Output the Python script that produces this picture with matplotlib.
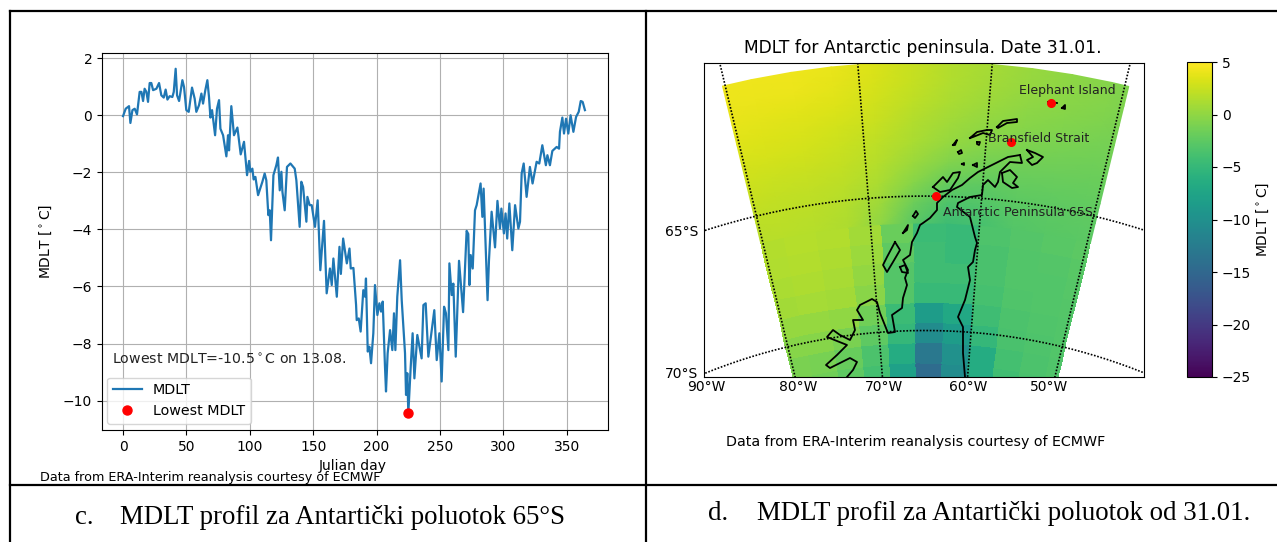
import numpy as np
import matplotlib
matplotlib.use('Agg')
import matplotlib.pyplot as plt
from matplotlib.lines import Line2D

W, H = 1277, 542

# left panel, MDLT profile
days = [0, 2.1, 4.7, 5.8, 7.4, 9.2, 11, 13.1, 14.5, 15.8, 17, 18.4, 19.7, 21, 22.3, 23.7, 26.3, 28.4, 30.2, 32.1,
        33.6, 35, 36.8, 38.9, 40, 41.5, 42.6, 44.2, 46.8, 48.1, 49.9, 51.8, 54.4, 56.5, 57.8, 59.9, 61.8, 63.1,
        64.9, 66.5, 67.8, 68.9, 70.2, 72.6, 74.1, 75.7, 76.8, 78.9, 81.5, 82.8, 83.6, 85.4, 87.5, 90.2, 92.8,
        95.4, 97.8, 99.4, 100.4, 102, 103, 104.4, 106.5, 109.9, 111.7, 113, 114.6, 115.7, 116.7, 118.6, 120.9,
        122.2, 123.6, 124.9, 125.7, 127.5, 129.3, 132, 135.4, 136.7, 139.3, 140.6, 142, 144.6, 145.4, 147.2,
        148.8, 151.4, 153.5, 155.6, 158.5, 160.6, 163.2, 164.6, 165.9, 168.6, 170.7, 171.8, 173.6, 176.5, 178.6,
        179.6, 181.7, 183.8, 184.3, 185.9, 187.4, 189.5, 190.9, 191.6, 193, 194.3, 195.6, 197.4, 198.7, 200.6,
        202.2, 203.5, 204.8, 206.6, 207.4, 208.7, 210.6, 212.4, 213.7, 214.8, 216.3, 218.5, 219.8, 222.4, 223.2,
        224.2, 225, 226.9, 228.4, 229.8, 232.1, 235.5, 236.9, 238.7, 240.8, 245.5, 247.4, 249.5, 251.3, 253.2,
        254.7, 256.6, 257.4, 259.2, 260.5, 262.4, 265, 268.2, 271, 272.3, 273.2, 274.2, 275.8, 277.6, 278.9, 282,
        283.4, 284.4, 287.5, 288.6, 290.7, 293.4, 295.3, 297.3, 298.4, 300.4, 301.7, 303, 304.7, 307, 309.2,
        311.8, 313.1, 314.4, 316, 318.3, 320.9, 323, 326.2, 328.3, 330.7, 333.5, 334.7, 336.7, 338.6, 342, 343.9,
        344.6, 346.5, 347.8, 349.4, 351.2, 353, 355.2, 357.3, 359.4, 361, 362.5, 364.3]
mdlt = [-0.03, 0.23, 0.32, -0.27, 0.18, 0.23, 0.03, 0.82, 0.82, 0.5, 0.93, 0.82, 0.47, 1.13, 1.13, 0.88, 0.93, 1.13, 0.7, 0.62,
        0.9, 0.55, 0.67, 0.64, 0.82, 1.63, 0.7, 0.5, 1.23, 0.99, 0.18, 0.12, 0.97, 0.58, 0.12, 0.35, 0.76, 0.41,
        0.88, 1.23, 0.64, -0.08, 0.18, -0.7, 0.23, 0.53, -0.47, -0.7, -1.44, -0.7, -1.23, 0.32, -0.7, -0.43, -1.37,
        -0.93, -2.1, -1.6, -1.98, -1.87, -2.25, -2.16, -2.8, -2.33, -2.04, -2.28, -3.5, -3.33, -4.38, -2.1, -1.75,
        -1.48, -2.63, -1.98, -2.68, -3.33, -1.81, -1.69, -1.87, -2.28, -3.91, -2.33, -2.51, -3.73, -2.86, -3.15,
        -3.15, -3.91, -2.98, -5.43, -3.7, -6.24, -5.37, -5.95, -5.02, -6.36, -4.61, -5.56, -4.32, -5.19, -4.67,
        -5.37, -5.35, -6.65, -7.18, -7.12, -7.58, -6.13, -6.36, -5.72, -8.28, -8.11, -8.69, -7.64, -5.95, -7.0,
        -6.59, -6.88, -6.53, -8.81, -9.68, -8.34, -7.53, -8.23, -6.94, -8.23, -6.36, -5.08, -6.48, -8.34, -9.8,
        -9.04, -10.45, -8.81, -7.64, -9.22, -7.7, -8.52, -6.65, -6.59, -8.46, -6.83, -8.58, -7.64, -9.33, -6.71,
        -6.94, -8.23, -5.19, -6.3, -5.9, -8.46, -5.1, -6.9, -4.05, -4.16, -5.95, -4.9, -5.37, -3.33, -3.15, -2.39,
        -3.56, -2.57, -6.48, -5.1, -3.38, -4.63, -3.0, -3.97, -3.27, -4.14, -3.44, -4.32, -3.09, -4.73, -3.15,
        -3.97, -3.73, -2.04, -1.69, -2.86, -1.81, -2.39, -1.63, -1.69, -1.05, -1.75, -1.4, -1.75, -1.25, -1.11, -1.17,
        -0.58, -0.08, -0.64, -0.12, -0.64, 0.0, -0.58, -0.06, 0.12, 0.5, 0.47, 0.18]
low_day = [225]
low_val = [-10.45]

# right panel, field on a coarse grid (rows 60S to 72S, columns west to east)
lon_edges = [-80.2, -78, -75, -72, -69, -66, -63, -60, -57, -54, -51, -49.7]
lat_edges = [-60, -60.75, -61.5, -62.25, -63, -63.75, -64.5, -65.25, -66, -66.75, -67.5, -68.25, -69, -69.75, -70.5, -71.25, -72]
field = [
    [4.2, 4.3, 4.2, 3.9, 3.0, 2.0, 1.2, 0.6, 0.1, -0.3, -0.8],
    [4.0, 4.0, 3.8, 3.4, 2.6, 1.7, 1.0, 0.4, -0.1, -0.5, -0.9],
    [3.7, 3.6, 3.4, 3.0, 2.3, 1.3, 0.6, 0.0, -0.5, -0.8, -1.1],
    [3.3, 3.2, 3.0, 2.6, 1.9, 0.9, 0.2, -0.5, -0.9, -1.2, -1.4],
    [2.9, 2.8, 2.6, 2.2, 1.5, 0.4, -0.5, -1.1, -1.4, -1.6, -1.7],
    [2.5, 2.4, 2.2, 1.8, 1.0, -0.8, -2.0, -2.0, -1.9, -2.0, -2.0],
    [2.2, 2.1, 1.9, 1.5, 0.3, -2.5, -3.0, -2.6, -2.4, -2.3, -2.3],
    [1.9, 1.9, 1.7, 1.2, -0.8, -4.0, -4.0, -3.0, -2.8, -2.6, -2.5],
    [1.6, 1.7, 1.5, 0.8, -1.8, -4.5, -4.8, -3.4, -3.0, -2.8, -2.6],
    [1.4, 1.5, 1.3, 0.5, -2.5, -4.3, -4.8, -3.6, -3.1, -3.0, -2.8],
    [1.2, 1.3, 1.1, 0.1, -3.0, -4.3, -4.3, -3.6, -3.2, -3.1, -2.9],
    [0.8, 1.0, 0.8, -0.3, -3.0, -4.8, -4.8, -3.8, -3.3, -3.2, -3.0],
    [0.2, 0.3, 0.0, -1.5, -4.5, -8.5, -7.0, -4.3, -3.5, -3.3, -3.1],
    [-0.5, -0.5, -1.0, -2.5, -5.0, -10.5, -8.5, -5.0, -3.6, -3.4, -3.2],
    [-1.0, -1.2, -2.0, -3.5, -6.5, -13.0, -10.0, -6.5, -4.0, -3.5, -3.3],
    [-1.2, -1.5, -2.5, -4.0, -8.0, -14.5, -10.5, -6.5, -4.2, -3.6, -3.4],
]
smooth_rows = 8
site_names = ['Elephant Island', 'Bransfield Strait', 'Antarctic Peninsula 65S']
site_lat = [-61.16, -62.8, -65.0]
site_lon = [-55.2, -58.0, -64.0]

# coastline, in map units of the projection below
coast_lines = [
    [(95, 763), (83, 761), (73, 756), (63, 751), (53, 746), (45, 740), (37, 733), (27, 728), (18, 721), (12, 715), (12, 708),
     (5, 700), (-2, 695), (-5, 693), (-8, 685), (-13, 676), (-15, 663), (-22, 658), (-17, 648), (-20, 640), (-18, 633),
     (-22, 620), (-23, 610), (-33, 603), (-30, 586), (-37, 585), (-45, 605), (-48, 616), (-53, 619), (-65, 613), (-68, 608),
     (-62, 598), (-72, 598), (-70, 588), (-75, 578), (-85, 583), (-92, 588), (-98, 581), (-78, 573), (-88, 563), (-99, 553),
     (-95, 550), (-75, 560), (-68, 556), (-72, 548), (-78, 541)],
    [(95, 763), (97, 755), (85, 756), (75, 746), (73, 736), (70, 731), (63, 738), (58, 733), (57, 723), (45, 721), (33, 715),
     (32, 711), (45, 701), (50, 681), (52, 675), (50, 668), (48, 656), (43, 651), (45, 638), (40, 618), (33, 601), (38, 591),
     (38, 565), (40, 541)],
    [(77, 745), (85, 748), (92, 741), (88, 735), (93, 731), (87, 730), (78, 736), (77, 745)],
    [(8, 731), (18, 741), (22, 736), (28, 745), (35, 746), (33, 740), (25, 728), (15, 726), (8, 731)],
    [(-30, 676), (-38, 661), (-42, 653), (-38, 646), (-32, 656), (-25, 668), (-30, 676)],
    [(-25, 651), (-20, 653), (-17, 645), (-23, 646), (-25, 651)],
    [(-22, 685), (-17, 693), (-18, 688), (-22, 685)],
    [(-12, 702), (-9, 707), (-7, 704), (-10, 700), (-12, 702)],
    [(102, 768), (110, 765), (118, 761), (112, 755), (107, 753), (102, 758), (108, 761), (102, 768)],
    [(72, 791), (78, 797), (92, 799), (92, 796), (82, 795), (73, 790), (72, 791)],
    [(45, 780), (52, 786), (62, 788), (67, 788), (65, 783), (58, 785), (48, 781), (45, 780)],
    [(28, 773), (32, 778), (30, 773), (28, 773)],
    [(33, 766), (36, 768), (37, 765), (34, 764), (33, 766)],
    [(52, 776), (55, 776), (54, 773), (52, 774), (52, 776)],
    [(37, 754), (39, 755), (39, 753), (37, 754)],
    [(48, 753), (52, 755), (52, 751), (48, 753)],
    [(137, 810), (140, 813), (140, 809), (137, 810)],
    [(123, 816), (132, 815)],
]

colorbar_ticks = [5, 0, -5, -10, -15, -20, -25]
meridians = [-80, -70, -60, -50]
parallels = [-65, -70]
lon_labels = ['90°W', '80°W', '70°W', '60°W', '50°W']
lon_label_px = [706, 798, 884, 968, 1049]


def axes_px(x0, y0, x1, y1):
    return fig.add_axes([x0 / W, 1 - y1 / H, (x1 - x0) / W, (y1 - y0) / H])


def fig_text(x, y, s, **kw):
    kw.setdefault('ha', 'center')
    kw.setdefault('va', 'center')
    return fig.text(x / W, 1 - y / H, s, **kw)


# conic projection, apex at the south pole
def lcc(lon, lat):
    lon = np.asarray(lon, dtype=float)
    lat = np.asarray(lat, dtype=float)
    r = 2801 * np.tan(np.radians(90 + lat) / 2) ** 0.9
    t = np.radians(0.9 * (lon + 65))
    return r * np.sin(t), r * np.cos(t)


fig = plt.figure(figsize=(W / 100, H / 100), dpi=100)

# table rules from the document
for x0, y0, x1, y1 in [(10, 10.5, 10, 542), (10, 10.5, 1277, 10.5), (645.7, 10.5, 645.7, 542), (10, 484.5, 1277, 484.5)]:
    fig.add_artist(Line2D([x0 / W, x1 / W], [1 - y0 / H, 1 - y1 / H], color='black', lw=1.6))

# profile
ax = axes_px(102, 52.5, 608, 430)
ax.plot(days, mdlt, color='#1f77b4', lw=1.6, label='MDLT')
ax.plot(low_day, low_val, 'o', color='red', ms=6.5, label='Lowest MDLT')
ax.set_xlim(-16.6, 382.5)
ax.set_ylim(-11.03, 2.2)
ax.set_xticks(range(0, 351, 50))
ax.set_yticks(range(-10, 3, 2))
ax.grid(True)
ax.tick_params(labelsize=10)
ax.legend(loc='lower left', bbox_to_anchor=(0.002, 0.004), fontsize=10.3, borderaxespad=0.3)
fig_text(229.5, 360, 'Lowest MDLT=-10.5$^\\circ$C on 13.08.', fontsize=10.2, color='#222222')
fig_text(46, 241, 'MDLT [$^\\circ$C]', fontsize=10, rotation=90)
fig_text(353, 466, 'Julian day', fontsize=10)
fig_text(210, 478, 'Data from ERA-Interim reanalysis courtesy of ECMWF', fontsize=9.2)

# map
mp = axes_px(704, 63, 1144, 377)
lon2d, lat2d = np.meshgrid(lon_edges, lat_edges)
mx, my = lcc(lon2d, lat2d)
cells = np.array(field)
padded = np.pad(cells, 1, mode='edge')
nodes = (padded[:-1, :-1] + padded[1:, :-1] + padded[:-1, 1:] + padded[1:, 1:]) / 4
n = smooth_rows
pc = mp.pcolormesh(mx[n:], my[n:], cells[n:], cmap='viridis', vmin=-25, vmax=5, shading='flat', edgecolors='face', linewidth=0.2)
mp.pcolormesh(mx[:n + 1], my[:n + 1], nodes[:n + 1], cmap='viridis', vmin=-25, vmax=5, shading='gouraud')
for part in coast_lines:
    mp.plot([p[0] for p in part], [p[1] for p in part], color='black', lw=1.3)
lon_line = np.linspace(-110, -20, 200)
for lat in parallels:
    px_, py_ = lcc(lon_line, np.full(200, lat))
    mp.plot(px_, py_, color='black', lw=1.2, ls=(0, (1, 1)))
lat_line = np.linspace(-80, -55, 100)
for lon in meridians:
    px_, py_ = lcc(np.full(100, lon), lat_line)
    mp.plot(px_, py_, color='black', lw=1.2, ls=(0, (1, 1)))
sx, sy = lcc(site_lon, site_lat)
mp.plot(sx, sy, 'o', color='red', ms=5.5)
mp.text(sx[0] + 16, sy[0] + 6, site_names[0], ha='center', va='bottom', fontsize=9, color='#222222')
mp.text(sx[1] + 28, sy[1] + 3, site_names[1], ha='center', va='center', fontsize=9, color='#222222')
mp.text(sx[2] + 7, sy[2] - 16, site_names[2], ha='left', va='center', fontsize=9.1, color='#222222')
mp.set_xlim(-221, 219)
mp.set_ylim(541, 855)
mp.set_xticks([])
mp.set_yticks([])
fig_text(923, 48, 'MDLT for Antarctic peninsula. Date 31.01.', fontsize=12.3)
fig_text(698, 232, '65°S', ha='right', fontsize=10)
fig_text(698, 374, '70°S', ha='right', fontsize=10)
for s, x in zip(lon_labels, lon_label_px):
    fig_text(x, 387, s, fontsize=10)
fig_text(915.5, 442, 'Data from ERA-Interim reanalysis courtesy of ECMWF', fontsize=10.25)

# colour bar
cax = axes_px(1187, 62, 1212, 377)
cb = fig.colorbar(pc, cax=cax, ticks=colorbar_ticks)
cb.ax.tick_params(labelsize=10)
cb.set_label('MDLT [$^\\circ$C]', fontsize=10, labelpad=3)

# captions
fig_text(75, 517, 'c.', family='Liberation Serif', fontsize=19.4, ha='left')
fig_text(120, 517, 'MDLT profil za Antartički poluotok 65°S', family='Liberation Serif', fontsize=19.4, ha='left')
fig_text(708, 513, 'd.', family='Liberation Serif', fontsize=19.4, ha='left')
fig_text(757, 513, 'MDLT profil za Antartički poluotok od 31.01.', family='Liberation Serif', fontsize=19.4, ha='left')

fig.savefig('out.png', dpi=100)
